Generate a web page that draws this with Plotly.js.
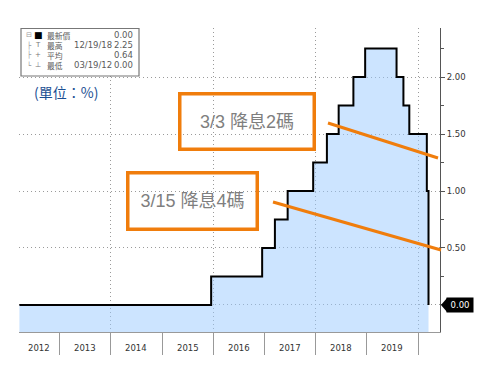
<!DOCTYPE html>
<html><head><meta charset="utf-8">
<script src="https://cdn.plot.ly/plotly-3.0.1.min.js"></script>
<style>html,body{margin:0;padding:0;background:#fff}</style>
</head><body><div id="chart" style="width:484px;height:377px"></div>
<script>
// ---- data ----
const rateDates = ['2012-03-19','2015-12-17','2016-12-15','2017-03-16','2017-06-15','2017-12-14','2018-03-22','2018-06-14','2018-09-27','2018-12-20','2019-08-01','2019-09-19','2019-10-31','2020-03-04','2020-03-16'];
const rates = [0.00,0.25,0.50,0.75,1.00,1.25,1.50,1.75,2.00,2.25,2.00,1.75,1.50,1.00,0.00];
const yearLabels = ['2012','2013','2014','2015','2016','2017','2018','2019'];
const yTickVals = [0,0.5,1,1.5,2];
const yTickText = ['','0.50','1.00','1.50','2.00'];
const legendTree = ['⊟','├','├','└'];
const legendIcons = ['■','T','+','⊥'];
const legendNames = ['最新價','最高','平均','最低'];
const legendDates = ['','12/19/18','','03/19/12'];
const legendValues = ['0.00','2.25','0.64','0.00'];
const lastValueText = '0.00';
const unitText = '(單位：%)';
const noteTexts = ['3/3 降息2碼','3/15 降息4碼'];

// ---- layout helpers ----
const W = 484, H = 377, ML = 19, MR = 44, MT = 28, MB = 45;
const PW = W - ML - MR, PH = H - MT - MB;
const px = x => (x - ML) / PW;
const py = y => (H - MB - y) / PH;
const X_RANGE = ['2012-03-16','2020-06-06'];
const Y_RANGE = [-0.237, 2.43];

const baseline = rateDates.map(() => Y_RANGE[0]);

const traces = [
  {x: rateDates, y: baseline, type:'scatter', mode:'lines', line:{shape:'hv', width:0, color:'rgba(0,0,0,0)'}, hoverinfo:'skip', showlegend:false},
  {x: rateDates, y: rates, type:'scatter', mode:'lines', line:{shape:'hv', width:2, color:'#000'},
   fill:'tonexty', fillcolor:'rgba(153,201,255,0.5)', hoverinfo:'skip', showlegend:false}
];

const allYearTicks = yearLabels.slice(1).map(y => y + '-01-01').concat([String(+yearLabels[yearLabels.length-1]+1) + '-01-01']);
const gridYears = allYearTicks.filter(d => (+d.slice(0,4)) % 2 === 0);
const sepYears = allYearTicks.filter(d => (+d.slice(0,4)) % 2 === 1);

const t0 = new Date(X_RANGE[0]).getTime();
const annotations = [];
// year labels centered in visible interval
yearLabels.forEach(y => {
  const s = Math.max(new Date(y + '-01-01').getTime(), t0);
  const e = new Date((+y+1) + '-01-01').getTime();
  const mid = new Date((s + e) / 2).toISOString().slice(0,10);
  annotations.push({x: mid, xref:'x', y: py(348), yref:'paper', text: y, showarrow:false,
    xanchor:'center', yanchor:'middle', font:{family:'DejaVu Sans', size:8.5, color:'#333'}});
});
// legend box rows
const rowY = [35, 45, 55, 65];
legendNames.forEach((n, i) => {
  const yy = py(rowY[i]);
  annotations.push({x: px(29), xref:'paper', y: yy, yref:'paper', text: legendTree[i], showarrow:false, borderpad:0,
    xanchor:'center', yanchor:'middle', font:{family:'DejaVu Sans', size:7, color:'#999'}});
  annotations.push({x: px(38), xref:'paper', y: yy, yref:'paper', text: legendIcons[i], showarrow:false, borderpad:0,
    xanchor:'center', yanchor:'middle', font:{family:'DejaVu Sans', size: i===0 ? 9 : 7, color: i===0 ? '#000' : '#777'}});
  if (legendDates[i]) annotations.push({x: px(113), xref:'paper', y: yy, yref:'paper', text: legendDates[i], showarrow:false, borderpad:0,
    xanchor:'right', yanchor:'middle', font:{family:'DejaVu Sans', size:8.5, color:'#5a5a5a'}});
  annotations.push({x: px(134), xref:'paper', y: yy, yref:'paper', text: legendValues[i], showarrow:false, borderpad:0,
    xanchor:'right', yanchor:'middle', font:{family:'DejaVu Sans', size:8.5, color:'#5a5a5a'}});
});
// legend names as one multi-line block
annotations.push({x: px(46), xref:'paper', y: py((rowY[0] + rowY[3]) / 2 + 0.5), yref:'paper', text: legendNames.join('<br>'),
  showarrow:false, borderpad:0, align:'left', xanchor:'left', yanchor:'middle',
  font:{family:'Noto Sans CJK TC', size:7.8, color:'#5a5a5a'}});
// unit label
annotations.push({x: px(32), xref:'paper', y: py(92), yref:'paper', text: unitText, showarrow:false,
  xanchor:'left', yanchor:'middle', font:{family:'Noto Sans CJK TC', size:14, color:'#1B4F93'}});
// note boxes
annotations.push({x: px(247), xref:'paper', y: py(121.5), yref:'paper', text: noteTexts[0], showarrow:false,
  xanchor:'center', yanchor:'middle', width:129, height:50, borderpad:1, borderwidth:3.5, bordercolor:'#F07D0C',
  bgcolor:'rgba(255,255,255,0)', font:{family:'Liberation Sans, Noto Sans CJK TC', size:18, color:'#7f7f7f'}});
annotations.push({x: px(192.5), xref:'paper', y: py(201), yref:'paper', text: noteTexts[1], showarrow:false,
  xanchor:'center', yanchor:'middle', width:124, height:51, borderpad:1, borderwidth:3.5, bordercolor:'#F07D0C',
  bgcolor:'rgba(255,255,255,0)', font:{family:'Liberation Sans, Noto Sans CJK TC', size:18, color:'#7f7f7f'}});
// last value tag
annotations.push({x: 1, xref:'paper', xshift:6, y: rates[rates.length-1], yref:'y', text: lastValueText, showarrow:false,
  xanchor:'left', yanchor:'middle', width:22, height:10, borderpad:2, bgcolor:'#000',
  font:{family:'DejaVu Sans', size:8.5, color:'#fff'}});

const shapes = [
  // legend box
  {type:'rect', xref:'paper', yref:'paper', x0: px(21), x1: px(139), y0: py(76), y1: py(28.5),
   line:{color:'#777', width:1.2}, fillcolor:'#fff', layer:'above'},
  // callout lines
  {type:'line', xref:'paper', yref:'paper', x0: px(328), y0: py(123), x1: px(438), y1: py(158),
   line:{color:'#F07D0C', width:3}, layer:'above'},
  {type:'line', xref:'paper', yref:'paper', x0: px(273), y0: py(202), x1: px(441), y1: py(250),
   line:{color:'#F07D0C', width:3}, layer:'above'},
  // tag pointer
  {type:'path', xref:'paper', yref:'y', xsizemode:'pixel', ysizemode:'pixel', xanchor:1, yanchor: rates[rates.length-1],
   path:'M1,0 L7,7 L7,-7 Z', fillcolor:'#000', line:{width:0}, layer:'above'}
];

const layout = {
  width: W, height: H,
  margin:{l:ML, r:MR, t:MT, b:MB, pad:0},
  paper_bgcolor:'#fff', plot_bgcolor:'#fff',
  showlegend:false,
  xaxis:{type:'date', range:X_RANGE, tickmode:'array', tickvals:gridYears, showticklabels:false,
    ticks:'outside', ticklen:22, tickcolor:'#999', tickwidth:1,
    showgrid:true, gridcolor:'#9a9a9a', griddash:'1px,3px', gridwidth:1,
    minor:{tickmode:'array', tickvals:sepYears, ticks:'outside', ticklen:22, tickcolor:'#999', tickwidth:1, showgrid:false},
    showline:true, linecolor:'#999', linewidth:1, zeroline:false, fixedrange:true},
  yaxis:{range:Y_RANGE, side:'right', tickmode:'array', tickvals:yTickVals, ticktext:yTickText,
    ticks:'outside', ticklen:4, tickcolor:'#555', tickwidth:1,
    minor:{dtick:0.25, tick0:0, ticks:'outside', ticklen:3, tickcolor:'#555', showgrid:false},
    showgrid:true, gridcolor:'#9a9a9a', griddash:'1px,3px', gridwidth:1,
    showline:true, linecolor:'#555', linewidth:1, zeroline:false,
    tickfont:{family:'DejaVu Sans', size:8.5, color:'#333'}, fixedrange:true},
  annotations, shapes
};

Plotly.newPlot('chart', traces, layout, {staticPlot:true, displayModeBar:false});
</script></body></html>
